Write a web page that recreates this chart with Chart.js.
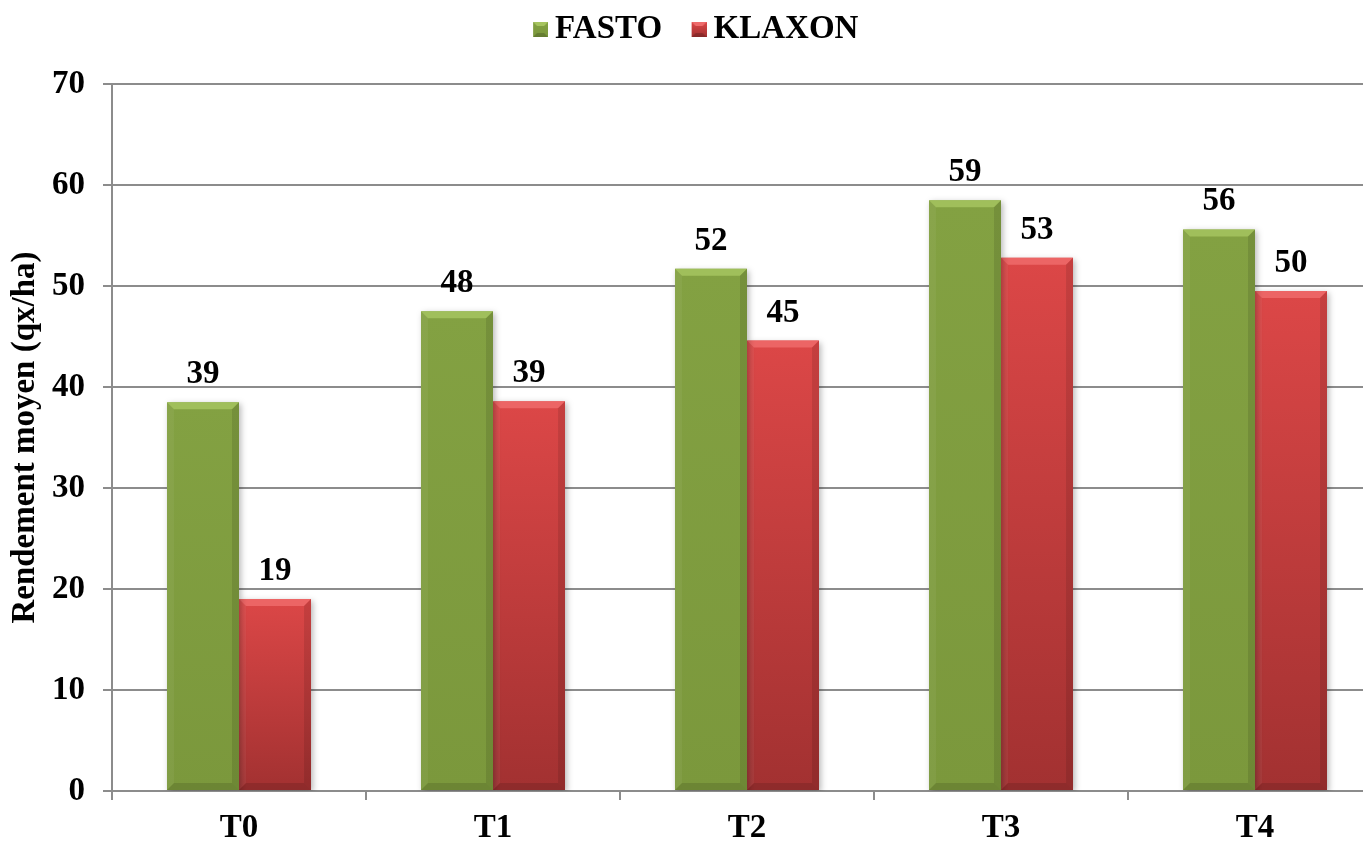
<!DOCTYPE html>
<html>
<head>
<meta charset="utf-8">
<script src="https://cdn.jsdelivr.net/npm/chart.js@4.4.0/dist/chart.umd.min.js"></script>
<style>
    html, body { margin: 0; padding: 0; background: #fff; overflow: hidden; }
    #wrap { width: 1363px; height: 842px; overflow: hidden; }
</style>
</head>
<body>
<div id="wrap"><canvas id="rendement_chart" width="1384" height="842" style="width:1384px;height:842px"></canvas></div>
<script>
// Rendement moyen par traitement, deux variétés
const categories = ['T0', 'T1', 'T2', 'T3', 'T4'];
const series_names = ['FASTO', 'KLAXON'];
const fasto_values = [38.5, 47.5, 51.7, 58.5, 55.6];
const klaxon_values = [19.0, 38.6, 44.6, 52.8, 49.5];
const y_max = 70;
const y_step = 10;
const y_title = 'Rendement moyen (qx/ha)';

const serif = '"Liberation Serif", "Times New Roman", serif';
const font_size = 33;
const grid_color = '#8c8c8c';
const colors = {
    fasto: {top: '#83a142', bottom: '#7b983c', light: '#a6c45f'},
    klaxon: {top: '#dc4747', bottom: '#a23131', light: '#ee6b6b'}
};

// degrade vertical propre a chaque barre
function bar_fill(top, bottom) {
    return function (ctx) {
        const chart = ctx.chart;
        if (!chart.chartArea || ctx.type !== 'data') return top;
        const y_scale = chart.scales.y;
        const g = chart.ctx.createLinearGradient(0, y_scale.getPixelForValue(ctx.raw), 0, y_scale.getPixelForValue(0));
        g.addColorStop(0, top);
        g.addColorStop(1, bottom);
        return g;
    };
}

// petite icone biseautee pour la legende (carre cale a droite pour rapprocher le texte)
function legend_icon(c) {
    const s = 15, d = 4, w = 34;
    const cv = document.createElement('canvas');
    cv.width = w; cv.height = s;
    const x = cv.getContext('2d');
    x.translate(w - s, 0);
    const g = x.createLinearGradient(0, 0, 0, s);
    g.addColorStop(0, c.top);
    g.addColorStop(1, c.bottom);
    x.fillStyle = g;
    x.fillRect(0, 0, s, s);
    x.fillStyle = c.light;
    x.beginPath(); x.moveTo(0, 0); x.lineTo(s, 0); x.lineTo(s - d, d); x.lineTo(d, d); x.closePath(); x.fill();
    x.fillStyle = 'rgba(0,0,0,0.18)';
    x.beginPath(); x.moveTo(0, s); x.lineTo(s, s); x.lineTo(s - d, s - d); x.lineTo(d, s - d); x.closePath(); x.fill();
    return cv;
}

function poly(ctx, pts, color) {
    ctx.fillStyle = color;
    ctx.beginPath();
    ctx.moveTo(pts[0][0], pts[0][1]);
    for (let i = 1; i < pts.length; i++) ctx.lineTo(pts[i][0], pts[i][1]);
    ctx.closePath();
    ctx.fill();
}

const bevel_plugin = {
    id: 'bevel',
    beforeLayout(chart) {
        // hauteur fixe du bloc legende
        const lg = chart.legend;
        if (lg && !lg._fixed) {
            const fit = lg.fit.bind(lg);
            lg.fit = function () { fit(); this.height = 91; };
            lg._fixed = true;
        }
    },
    beforeDatasetDraw(chart) {
        const ctx = chart.ctx;
        ctx.save();
        ctx.shadowColor = 'rgba(0,0,0,0.28)';
        ctx.shadowBlur = 6;
        ctx.shadowOffsetX = 2;
        ctx.shadowOffsetY = 2;
    },
    afterDatasetDraw(chart, args) {
        const ctx = chart.ctx;
        ctx.restore();
        const c = args.index === 0 ? colors.fasto : colors.klaxon;
        args.meta.data.forEach((bar) => {
            const p = bar.getProps(['x', 'y', 'base', 'width'], true);
            const l = p.x - p.width / 2, r = p.x + p.width / 2, t = p.y, b = p.base;
            const d = 7;
            ctx.save();
            ctx.globalAlpha = 0.85;
            poly(ctx, [[l, t], [r, t], [r - d, t + d], [l + d, t + d]], c.light);
            ctx.globalAlpha = 1;
            poly(ctx, [[l, b], [r, b], [r - d, b - d], [l + d, b - d]], 'rgba(0,0,0,0.12)');
            poly(ctx, [[r, t], [r, b], [r - d, b - d], [r - d, t + d]], 'rgba(0,0,0,0.10)');
            poly(ctx, [[l, t], [l, b], [l + d, b - d], [l + d, t + d]], 'rgba(255,255,255,0.05)');
            ctx.restore();
        });
    }
};

const value_labels_plugin = {
    id: 'value_labels',
    afterDatasetsDraw(chart) {
        const ctx = chart.ctx;
        ctx.save();
        ctx.font = 'bold ' + font_size + 'px ' + serif;
        ctx.fillStyle = '#000';
        ctx.textAlign = 'center';
        ctx.textBaseline = 'alphabetic';
        chart.data.datasets.forEach((ds, i) => {
            chart.getDatasetMeta(i).data.forEach((bar, j) => {
                ctx.fillText(Math.round(ds.data[j]), bar.x, bar.y - 19);
            });
        });
        ctx.restore();
    }
};

const bold_font = {family: serif, size: font_size, weight: 'bold'};

const ctx = document.getElementById('rendement_chart').getContext('2d');
const chart = new Chart(ctx, {
    type: 'bar',
    data: {
        labels: categories,
        datasets: [{
            label: series_names[0],
            data: fasto_values,
            backgroundColor: bar_fill(colors.fasto.top, colors.fasto.bottom),
            pointStyle: legend_icon(colors.fasto),
            barPercentage: 1,
            categoryPercentage: 0.567
        }, {
            label: series_names[1],
            data: klaxon_values,
            backgroundColor: bar_fill(colors.klaxon.top, colors.klaxon.bottom),
            pointStyle: legend_icon(colors.klaxon),
            barPercentage: 1,
            categoryPercentage: 0.567
        }]
    },
    options: {
        responsive: false,
        animation: false,
        layout: {padding: {top: -7, right: 2, left: 0, bottom: 0}},
        plugins: {
            tooltip: {enabled: false},
            legend: {
                position: 'top',
                labels: {
                    usePointStyle: true,
                    boxWidth: 15,
                    font: bold_font,
                    color: '#000',
                    padding: 20
                }
            }
        },
        scales: {
            x: {
                grid: {offset: true, drawOnChartArea: false, drawTicks: true, tickLength: 9, color: grid_color, lineWidth: 2},
                border: {color: grid_color, width: 2},
                ticks: {font: bold_font, color: '#000', padding: 9},
                afterFit: (s) => { s.height = 51; }
            },
            y: {
                min: 0,
                max: y_max,
                ticks: {stepSize: y_step, font: bold_font, color: '#000', padding: 18},
                grid: {color: grid_color, lineWidth: 2, tickLength: 9},
                border: {color: grid_color, width: 2},
                title: {display: true, text: y_title, color: '#000', font: bold_font, padding: {top: 6, bottom: 0}},
                afterFit: (s) => { s.width = 112; }
            }
        }
    },
    plugins: [bevel_plugin, value_labels_plugin]
});
</script>
</body>
</html>
